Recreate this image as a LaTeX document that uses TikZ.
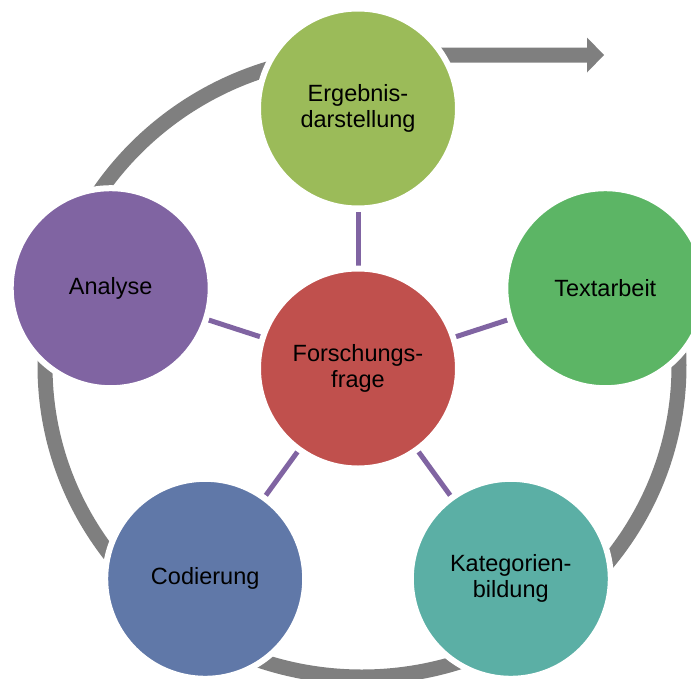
\documentclass[tikz,border=0pt]{standalone}
\usepackage{fontspec}
\setmainfont{Liberation Sans}
\usetikzlibrary{backgrounds}
\definecolor{ringgrey}{HTML}{7F7F7F}
\definecolor{cErg}{HTML}{9BBB59}
\definecolor{cText}{HTML}{5CB565}
\definecolor{cKat}{HTML}{5BAFA5}
\definecolor{cCod}{HTML}{6078A8}
\definecolor{cAna}{HTML}{8064A2}
\definecolor{cCen}{HTML}{C0504D}
\tikzset{
  bubble/.style={circle, draw=white, line width=6pt, inner sep=0pt,
    minimum size=200pt, align=center, text=black,
    font=\fontsize{23.5}{26}\selectfont},
  spoke/.style={draw=cAna, line width=5pt, shorten <=-3pt},
  ring/.style={draw=ringgrey, line width=15pt},
}
\begin{document}
\begin{tikzpicture}[x=1pt, y=-1pt]
\useasboundingbox (0,0) rectangle (691,678);
% nodes
\node[bubble, fill=cCen] (cen) at (358,368.5) {Forschungs-\\frage};
\node[bubble, fill=cErg] (erg) at (358,108.5) {Ergebnis-\\darstellung};
\node[bubble, fill=cText] (txt) at (605.3,288.2) {Textarbeit};
\node[bubble, fill=cKat] (kat) at (510.8,578.8) {Kategorien-\\bildung};
\node[bubble, fill=cCod] (cod) at (205.2,578.8) {Codierung};
\node[bubble, fill=cAna] (ana) at (110.7,288.2) {Analyse};
\begin{scope}[on background layer]
  % outer cycle arrow
  \coordinate (ringtop) at (362,55);
  \coordinate (headbase) at (589,55);
  \coordinate (tip) at (604,55);
  \draw[ring] (headbase) -- (ringtop)
     arc[start angle=270, end angle=-15, x radius=317, y radius=311];
  \fill[ringgrey] (587,37.5) -- (tip) -- (587,72.5) -- cycle;
  % spokes
  \draw[spoke] (cen) -- (erg);
  \draw[spoke] (cen) -- (txt);
  \draw[spoke] (cen) -- (kat);
  \draw[spoke] (cen) -- (cod);
  \draw[spoke] (cen) -- (ana);
\end{scope}
\end{tikzpicture}
\end{document}
